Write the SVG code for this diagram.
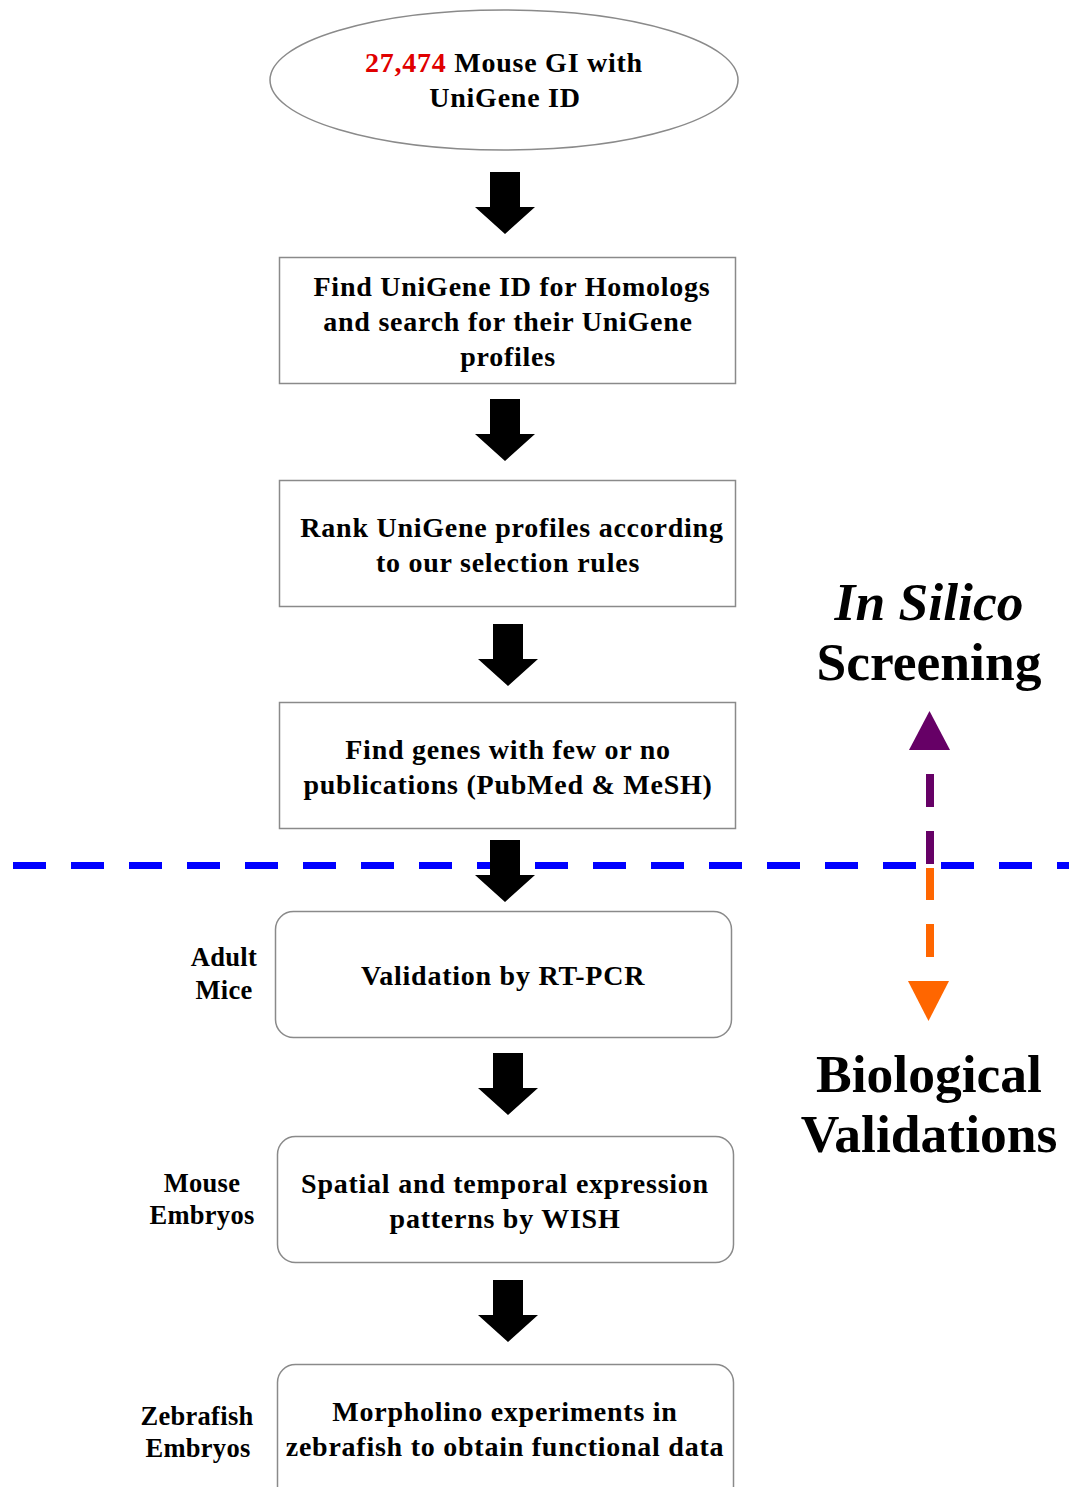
<svg xmlns="http://www.w3.org/2000/svg" width="1069" height="1487" viewBox="0 0 1069 1487">
<style>
.box{fill:#fff;stroke:#8a8a8a;stroke-width:1.5}
.t{font-family:"Liberation Serif","Times New Roman",serif;font-weight:bold;font-size:28px;letter-spacing:0.75px;fill:#000;text-anchor:middle}
.s{font-family:"Liberation Serif","Times New Roman",serif;font-weight:bold;font-size:26.5px;letter-spacing:0.3px;fill:#000;text-anchor:middle}
.big{font-family:"Liberation Serif","Times New Roman",serif;font-weight:bold;font-size:53.5px;fill:#000;text-anchor:middle}
.arr{fill:#000}
</style>
<defs>
<path id="down" d="M-15,0 H15 V35 H30 L0,62 L-30,35 H-15 Z"/>
</defs>
<rect width="1069" height="1487" fill="#fff"/>
<g id="divider">
<line x1="13" y1="865.5" x2="1069" y2="865.5" stroke="#0000ff" stroke-width="7" stroke-dasharray="33 25"/>
</g>
<g id="n1">
<ellipse cx="504" cy="80" rx="234" ry="70" class="box"/>
<text class="t" x="504" y="72"><tspan fill="#e00000">27,474</tspan> Mouse GI with</text>
<text class="t" x="505" y="107">UniGene ID</text>
</g>
<g id="n2">
<rect class="box" x="279.5" y="257.5" width="456" height="126"/>
<text class="t" x="512" y="296">Find UniGene ID for Homologs</text>
<text class="t" x="508" y="331">and search for their UniGene</text>
<text class="t" x="508" y="366">profiles</text>
</g>
<g id="n3">
<rect class="box" x="279.5" y="480.5" width="456" height="126"/>
<text class="t" x="512" y="537">Rank UniGene profiles according</text>
<text class="t" x="508" y="572">to our selection rules</text>
</g>
<g id="n4">
<rect class="box" x="279.5" y="702.5" width="456" height="126"/>
<text class="t" x="508" y="759">Find genes with few or no</text>
<text class="t" x="508" y="794">publications (PubMed &amp; MeSH)</text>
</g>
<g id="n5">
<rect class="box" x="275.5" y="911.5" width="456" height="126" rx="18"/>
<text class="t" x="503" y="985">Validation by RT-PCR</text>
</g>
<g id="n6">
<rect class="box" x="277.5" y="1136.5" width="456" height="126" rx="18"/>
<text class="t" x="505" y="1193">Spatial and temporal expression</text>
<text class="t" x="505" y="1228">patterns by WISH</text>
</g>
<g id="n7">
<rect class="box" x="277.5" y="1364.5" width="456" height="140" rx="18"/>
<text class="t" x="505" y="1421">Morpholino experiments in</text>
<text class="t" x="505" y="1456">zebrafish to obtain functional data</text>
</g>
<g id="labels">
<text class="s" x="224" y="966">Adult</text>
<text class="s" x="224" y="999">Mice</text>
<text class="s" x="202" y="1192">Mouse</text>
<text class="s" x="202" y="1224">Embryos</text>
<text class="s" x="197" y="1425">Zebrafish</text>
<text class="s" x="198" y="1457">Embryos</text>
<text class="big" x="929" y="620" font-style="italic" font-size="52.5">In Silico</text>
<text class="big" x="929" y="680">Screening</text>
<text class="big" x="929" y="1092">Biological</text>
<text class="big" x="929" y="1152">Validations</text>
</g>
<g id="connectors">
<use href="#down" x="505" y="172" class="arr"/>
<use href="#down" x="505" y="399" class="arr"/>
<use href="#down" x="508" y="624" class="arr"/>
<use href="#down" x="505" y="840" class="arr"/>
<use href="#down" x="508" y="1053" class="arr"/>
<use href="#down" x="508" y="1280" class="arr"/>
<g id="scope">
<polygon points="929.5,711 950,750 909,750" fill="#660066"/>
<rect x="926" y="774" width="8" height="33" fill="#660066"/>
<rect x="926" y="831" width="8" height="33" fill="#660066"/>
<rect x="926" y="868" width="8" height="32" fill="#ff6600"/>
<rect x="926" y="924" width="8" height="33" fill="#ff6600"/>
<polygon points="908,981 949,981 928.5,1021" fill="#ff6600"/>
</g>
</g>
</svg>
